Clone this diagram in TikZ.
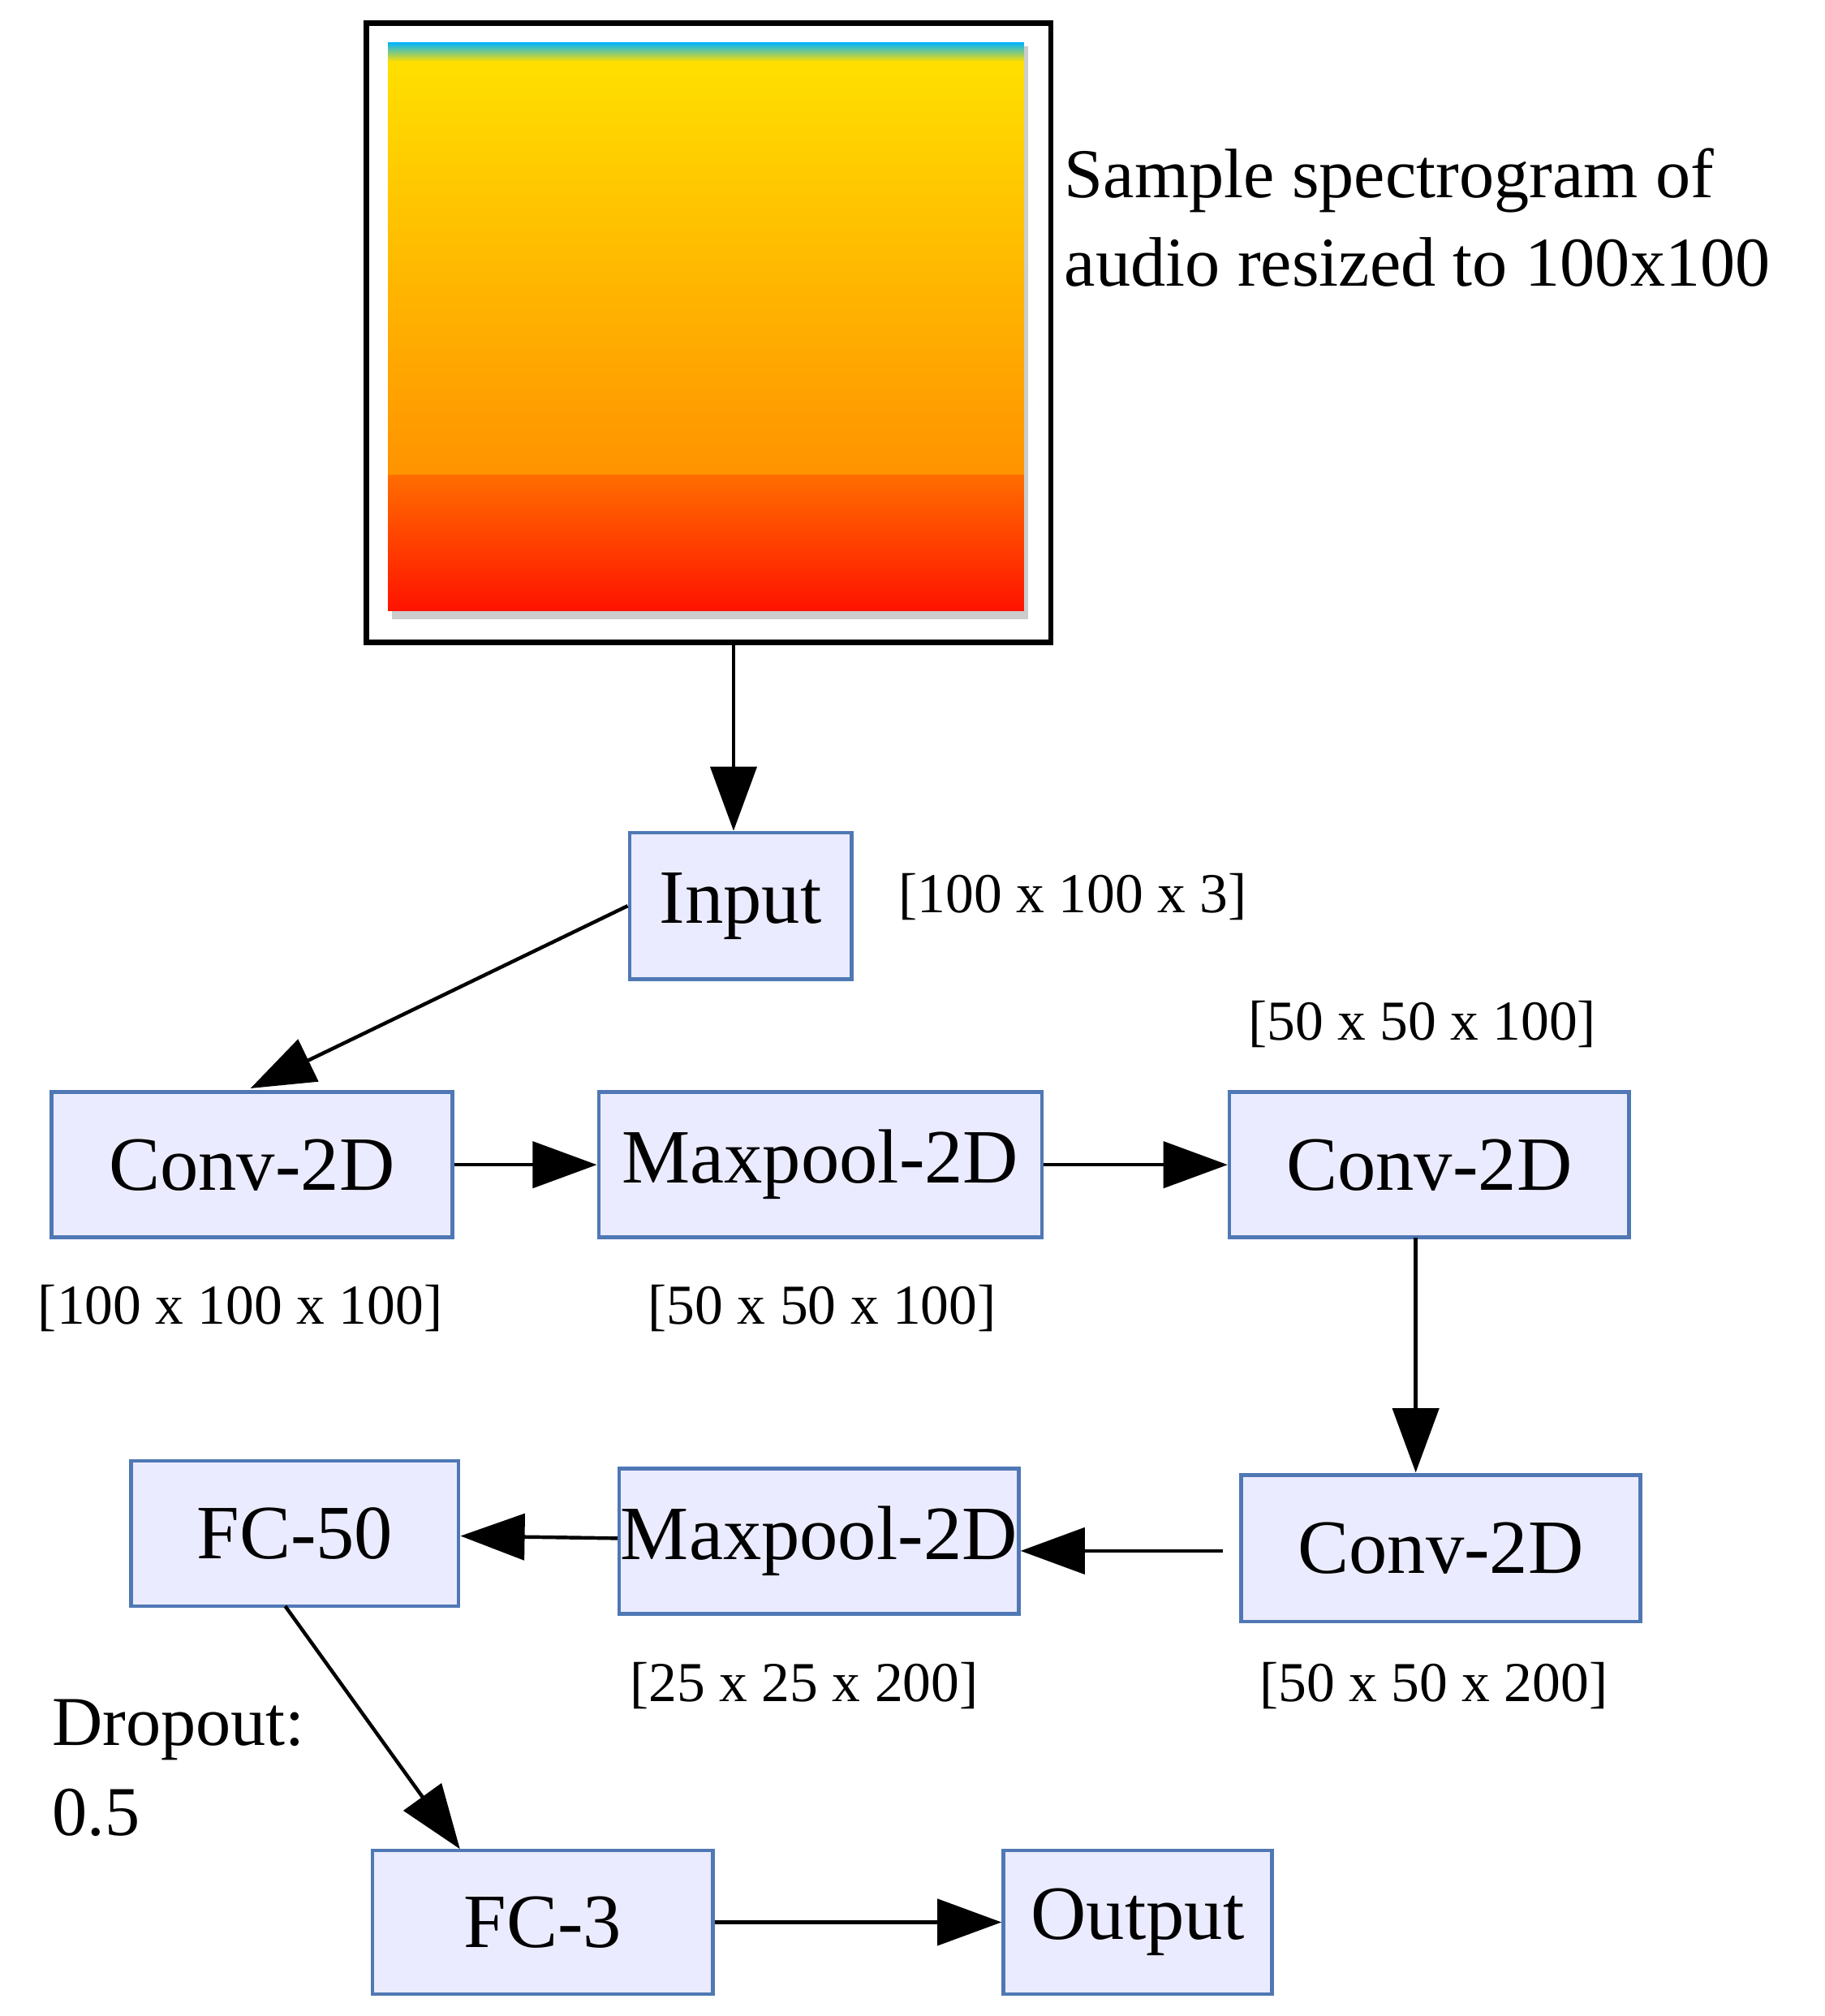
\documentclass[tikz,border=0pt]{standalone}
\usepackage{fontspec}
\setmainfont{Liberation Serif}
\usetikzlibrary{arrows.meta,positioning}
\colorlet{boxfill}{blue!8!white}
\definecolor{boxline}{RGB}{79,120,180}
\tikzset{
  >={Triangle[length=0.5cm,width=0.36cm]},
  layer/.style = {draw=boxline,fill=boxfill,line width=0.8pt,inner sep=0pt,font=\fontsize{17}{21}\selectfont},
  dims/.style = {font=\fontsize{12.5}{15}\selectfont},
  flow/.style = {->,line width=0.8pt}
}
\begin{document}
\begin{tikzpicture}[x=1cm,y=-1cm]
  \useasboundingbox (0,0) rectangle (14.2,15.69);
  % spectrogram
  \draw[line width=1.2pt] (2.85,0.18) rectangle (8.18,5.00);
  \fill[gray!40] (3.05,0.36) rectangle (8.00,4.82);
  \shade[top color=cyan!70!blue,bottom color=yellow!75!orange] (3.02,0.33) rectangle (7.97,0.48);
  \shade[top color=yellow!75!orange,bottom color=orange!85!yellow] (3.02,0.48) rectangle (7.97,3.70);
  \shade[top color=orange!85!red,bottom color=red!85!orange] (3.02,3.70) rectangle (7.97,4.75);
  \node[anchor=north west,align=left,font=\fontsize{15.5}{19.5}\selectfont,inner sep=0pt] (spec) at (8.28,1.15)
    {Sample spectrogram of\\audio resized to 100x100};
  \coordinate (specout) at (5.71,5.00);
  % layers
  \node[layer,minimum width=1.73cm,minimum height=1.14cm] (input) at (5.765,7.05) {Input};
  \node[layer,minimum width=3.12cm,minimum height=1.13cm] (conva) at (1.96,9.065) {Conv-2D};
  \node[layer,minimum width=3.45cm,minimum height=1.13cm] (poola) at (6.385,9.065) {Maxpool-2D};
  \node[layer,minimum width=3.11cm,minimum height=1.13cm] (convb) at (11.125,9.065) {Conv-2D};
  \node[layer,minimum width=3.11cm,minimum height=1.14cm] (convc) at (11.215,12.05) {Conv-2D};
  \node[layer,minimum width=3.11cm,minimum height=1.13cm] (poolb) at (6.375,11.995) {Maxpool-2D};
  \node[layer,minimum width=2.55cm,minimum height=1.13cm] (fca) at (2.295,11.935) {FC-50};
  \node[layer,minimum width=2.65cm,minimum height=1.12cm] (fcb) at (4.225,14.96) {FC-3};
  \node[layer,minimum width=2.09cm,minimum height=1.12cm] (out) at (8.855,14.96) {Output};
  % shapes
  \node[dims] at (8.35,6.98) {[100 x 100 x 3]};
  \node[dims] at (1.87,10.18) {[100 x 100 x 100]};
  \node[dims] at (6.40,10.18) {[50 x 50 x 100]};
  \node[dims] at (11.07,7.97) {[50 x 50 x 100]};
  \node[dims] at (11.16,13.12) {[50 x 50 x 200]};
  \node[dims] at (6.26,13.12) {[25 x 25 x 200]};
  \node[anchor=north west,align=left,font=\fontsize{15.5}{20}\selectfont,inner sep=0pt] (drop) at (0.40,13.22) {Dropout:\\0.5};
  % connectors
  \draw[flow] (specout) -- (input.north -| specout);
  \draw[flow] (input.west) -- (1.95,8.47);
  \draw[flow] (conva) -- (poola);
  \draw[flow] (poola) -- (convb);
  \draw[flow] (11.02,9.63) -- (11.02,11.46);
  \draw[flow] (9.52,12.07) -- (poolb.east |- 9.52,12.07);
  \draw[flow] (poolb) -- (fca);
  \draw[flow] (2.22,12.50) -- (3.58,14.39);
  \draw[flow] (fcb) -- (out);
\end{tikzpicture}
\end{document}
